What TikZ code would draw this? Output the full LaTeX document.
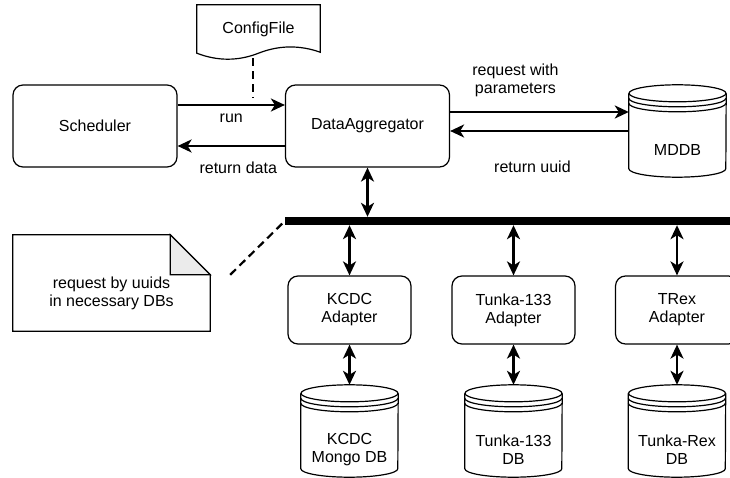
\documentclass[tikz,border=0pt]{standalone}
\usepackage{fontspec}
\setmainfont{Liberation Sans}
\usetikzlibrary{arrows.meta, positioning}

\begin{document}
\begin{tikzpicture} [x=1pt, y=1pt, node distance = 100pt, on grid,
   font=\fontsize{16}{18}\selectfont,
   box/.style={draw, line width=1.2pt, rounded corners=10pt, minimum width=164pt, minimum height=82pt},
   adapter/.style={draw, line width=1.2pt, rounded corners=10pt, minimum width=123pt, minimum height=68pt, align=center},
   db/.style={minimum width=97pt, minimum height=54pt, inner sep=0pt, align=center},
   lbl/.style={inner sep=0pt, text height=12pt, text depth=3.5pt},
   link/.style={line width=2.4pt, -{Stealth[length=14pt, width=13pt, inset=4pt]}},
   both/.style={line width=2.4pt, {Stealth[length=14pt, width=13pt, inset=4pt]}-{Stealth[length=14pt, width=13pt, inset=4pt]}},
   hint/.style={line width=2.2pt, dash pattern=on 8pt off 5pt},
   outline/.style={line width=1.2pt}]
   \useasboundingbox (0,0) rectangle (730,-478);

   \node (agg)[box] at (367.5,-126) {DataAggregator};
   \node (sched)[box, left = 272.5pt of agg] {Scheduler};
   \node (cfg)[minimum width=123pt, minimum height=48pt, inner sep=0pt, above left = 97pt and 109pt of agg] {ConfigFile};
   \node (mddb)[db, below right = 24pt and 310pt of agg] {MDDB};
   \node (bus)[fill, inner sep=0pt, minimum width=450pt, minimum height=8pt, below right = 95pt and 142.5pt of agg] {};
   \node (note)[minimum width=197pt, minimum height=76pt, inner sep=0pt, align=center, below left = 167pt and 256pt of agg] {request by uuids\\in necessary DBs};

   \node (kcdc)[adapter, below left = 184pt and 18pt of agg] {KCDC\\Adapter};
   \node (tunka)[adapter, right = 164pt of kcdc] {Tunka-133\\Adapter};
   \node (trex)[adapter, right = 163.5pt of tunka] {TRex\\Adapter};

   \node (kcdcdb)[db, below = 140pt of kcdc] {KCDC\\Mongo DB};
   \node (tunkadb)[db, below = 140pt of tunka] {Tunka-133\\DB};
   \node (rexdb)[db, below = 140pt of trex] {Tunka-Rex\\DB};

   % cylinders round the db nodes
   \foreach \n in {mddb, kcdcdb, tunkadb, rexdb} {
      \draw[outline] ([yshift=29.5pt]\n.north) ellipse [x radius=48.5pt, y radius=8.5pt];
      \draw[outline] ([yshift=29.5pt]\n.north west) -- ([yshift=8.5pt]\n.south west)
         arc [start angle=180, end angle=360, x radius=48.5pt, y radius=8.5pt]
         -- ([yshift=29.5pt]\n.north east);
      \foreach \d in {24.5, 19.5}
         \draw[outline] ([yshift=\d pt]\n.north west) arc [start angle=180, end angle=360, x radius=48.5pt, y radius=8.5pt];
      \coordinate (\n top) at ([yshift=38pt]\n.north);
   }

   % file and note outlines
   \draw[outline] (cfg.north west) -- (cfg.north east) -- ([yshift=1pt]cfg.south east)
      .. controls +(-20.7pt,7.3pt) and +(20.3pt,8pt) .. (cfg.south)
      .. controls +(-20.3pt,-8pt) and +(20.7pt,-8pt) .. (cfg.south west) -- cycle;
   \draw[outline] (note.south west) -- ([yshift=20pt]note.north west)
      -- ([shift={(-40pt,20pt)}]note.north east) -- ([yshift=-20pt]note.north east)
      -- (note.south east) -- cycle;
   \draw[outline, fill=black!8] ([shift={(-40pt,20pt)}]note.north east) -- ([shift={(-40pt,-20pt)}]note.north east)
      -- ([yshift=-20pt]note.north east) -- cycle;

   \coordinate (cfgtip) at ([xshift=-5.5pt, yshift=-45pt]cfg.south);
   \draw[hint] ([xshift=-5.5pt, yshift=-5pt]cfg.south) -- (cfgtip);
   \draw[hint] ([shift={(20pt,-20pt)}]note.north east) -- (bus.west);

   \draw[link] ([yshift=21pt]sched.east) -- node[lbl, below=4pt] {run} ([yshift=21pt]agg.west);
   \draw[link] ([yshift=-20pt]agg.west) -- node[lbl, below=14pt, xshift=7pt] {return data} ([yshift=-20pt]sched.east);
   \draw[link] ([yshift=14pt]agg.east) -- node[align=center, inner sep=0pt, above=13.5pt, xshift=-24pt] {request with\\parameters} ([yshift=14pt]agg.east -| mddb.west);
   \draw[link] ([yshift=-5pt]agg.east -| mddb.west) -- node[lbl, below=28pt, xshift=-7pt] {return uuid} ([yshift=-5pt]agg.east);

   \draw[both] (agg.south) -- (agg.south |- bus.north);
   \foreach \a/\b in {kcdc/kcdcdb, tunka/tunkadb, trex/rexdb} {
      \draw[both] (\a.north |- bus.south) -- (\a.north);
      \draw[both] (\a.south) -- (\b top);
   }
\end{tikzpicture}
\end{document}
